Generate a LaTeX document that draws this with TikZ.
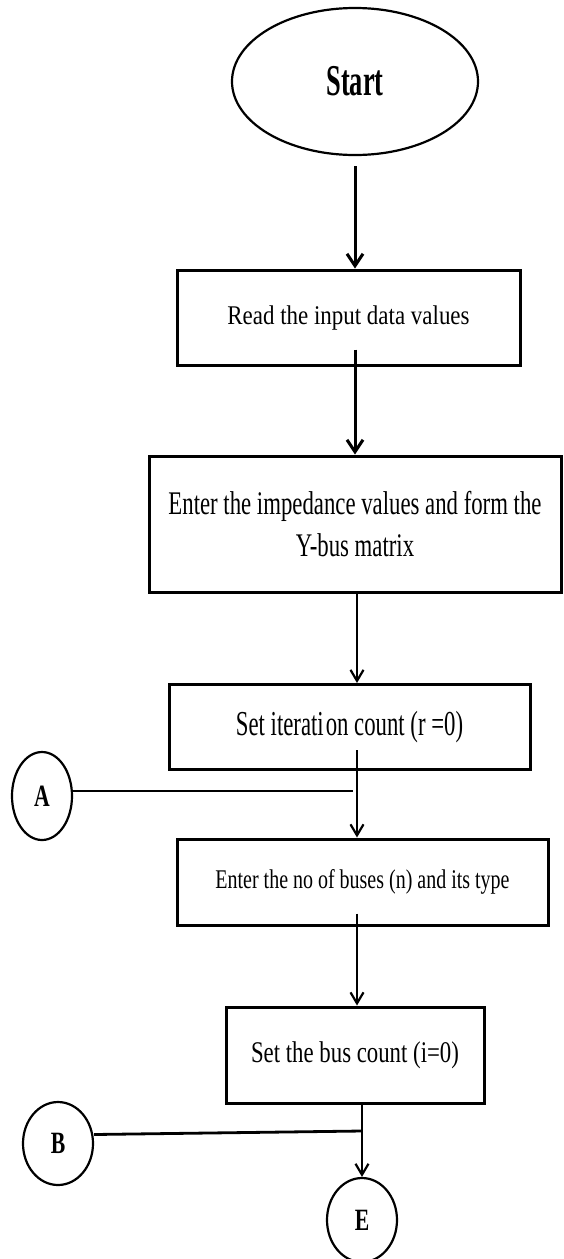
\documentclass[tikz,border=0pt]{standalone}
\usepackage{fontspec}
\setmainfont{Liberation Serif}
\newfontfamily\startfont{Liberation Serif}[FakeStretch=0.6]
\newfontfamily\readfont{Liberation Serif}[FakeStretch=0.85]
\newfontfamily\impfont{Liberation Serif}[FakeStretch=0.69]
\newfontfamily\iterfont{Liberation Serif}[FakeStretch=0.65]
\newfontfamily\busesfont{Liberation Serif}[FakeStretch=0.74]
\newfontfamily\countfont{Liberation Serif}[FakeStretch=0.76]
\newfontfamily\letterfont{Liberation Serif}[FakeStretch=0.7]
\usetikzlibrary{shapes.geometric,arrows.meta}
\tikzset{
  boxnode/.style={draw, line width=3pt, rectangle, inner sep=0pt, align=center},
  ovalnode/.style={draw, line width=2.2pt, ellipse, inner sep=0pt},
  connode/.style={draw, line width=2.2pt, ellipse, inner sep=0pt,
    font=\letterfont\bfseries\fontsize{31}{31}\selectfont},
  bigarr/.style={line width=3pt, -{Straight Barb[length=12pt,width=16pt,line width=3pt]}},
  arr/.style={line width=2.2pt, -{Straight Barb[length=11pt,width=13pt,line width=2.2pt]}},
  plain/.style={line width=2.8pt}
}
\begin{document}
\begin{tikzpicture}[x=1pt,y=-1pt]
\useasboundingbox (0,0) rectangle (563,1259);
\node[ovalnode, minimum width=246pt, minimum height=147pt,
  font=\startfont\bfseries\fontsize{44}{44}\selectfont] (start) at (355,81.5) {Start};
\node[boxnode, minimum width=343pt, minimum height=95pt,
  font=\readfont\fontsize{27}{32}\selectfont] (box1) at (348.5,317.5) {Read the input data values};
\node[boxnode, minimum width=412pt, minimum height=136pt,
  font=\impfont\fontsize{33}{42}\selectfont] (box2) at (355,524) {Enter the impedance values and form the\\Y-bus matrix};
\node[boxnode, minimum width=361pt, minimum height=85pt,
  font=\iterfont\fontsize{35}{40}\selectfont] (box3) at (349.5,727) {Set iterati\kern2pt on count (r =0)};
\node[boxnode, minimum width=371pt, minimum height=86pt,
  font=\busesfont\fontsize{27}{32}\selectfont] (box4) at (362.5,882) {Enter the no of buses (n) and its type};
\node[boxnode, minimum width=258pt, minimum height=96pt,
  font=\countfont\fontsize{30}{34}\selectfont] (box5) at (355,1055) {Set the bus count (i=0)};
\node[connode, minimum width=60pt, minimum height=88pt] (A) at (42,796) {A};
\node[connode, minimum width=70pt, minimum height=83pt] (B) at (58,1143.5) {B};
\node[connode, minimum width=70pt, minimum height=84pt] (E) at (362,1220) {E};
\coordinate (jA) at (353,791);
\coordinate (jB) at (362,1131);
\draw[bigarr] ([yshift=-10pt]start.south) -- ([xshift=6.5pt]box1.north);
\draw[bigarr] ([shift={(6.5,-17)}]box1.south) -- (box2.north);
\draw[arr] ([xshift=2pt]box2.south) -- ([xshift=7.5pt]box3.north);
\draw[arr] ([shift={(7.5,-21)}]box3.south) -- ([xshift=-5.5pt]box4.north);
\draw[arr] ([shift={(-5.5,-13)}]box4.south) -- ([xshift=2pt]box5.north);
\draw[arr] ([xshift=7pt]box5.south) -- (E.north);
\draw[plain] ([yshift=5pt]A.east) -- (jA);
\draw[plain] ([yshift=9pt]B.east) -- (jB);
\end{tikzpicture}
\end{document}
